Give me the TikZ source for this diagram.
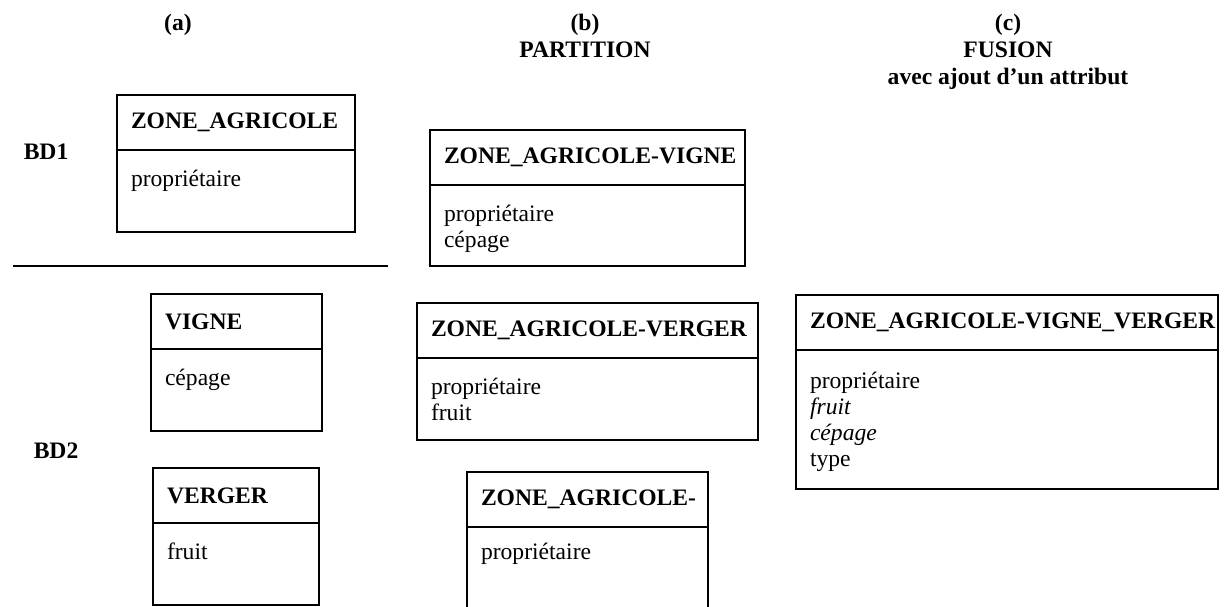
\documentclass[tikz,border=0pt]{standalone}
\usepackage{fontspec}
\setmainfont{Liberation Serif}
\usetikzlibrary{positioning}

\newcommand{\bigtext}{\fontsize{23.6pt}{26pt}\selectfont}

\begin{document}
\begin{tikzpicture}[
	x=1pt, y=-1pt,
	line width=1.5pt,
	node distance=0pt,
	title/.style={draw, anchor=north west, minimum height=55pt, outer sep=0pt, inner xsep=14pt, inner ysep=0pt, align=left, font=\bigtext\bfseries, execute at begin node={\exhyphenpenalty=10000 \hyphenpenalty=10000}},
	attr/.style={draw, outer sep=0pt, inner xsep=14pt, inner ysep=0pt, align=left, text height=36pt, font=\bigtext},
	head/.style={align=center, inner sep=0pt, font=\fontsize{23.6pt}{27pt}\selectfont\bfseries}
]
\useasboundingbox (0,0) rectangle (1226,607);
\clip (0,0) rectangle (1226,607);

% column headers (anchored on their last line)
\node[head, anchor=base] (ha) at (178,31) {(a)};
\node[head, anchor=base] (hb) at (585,58) {(b)\\PARTITION};
\node[head, anchor=base] (hc) at (1008,85) {(c)\\FUSION\\avec ajout d’un attribut};

\node[head, anchor=base west] (bd1) at (23,160) {BD1};
\node[head, anchor=base west] (bd2) at (33,458) {BD2};

\coordinate (cutL) at (13,266);
\coordinate (cutR) at (388,266);
\draw (cutL) -- (cutR);

% (a) source classes
\node[title, text width=210pt] (za) at (117,95) {ZONE\_AGRICOLE};
\node[attr, text width=210pt, text depth=46pt, below=of za] (za-att) {propriétaire};

\node[title, text width=143pt] (vigne) at (151,294) {VIGNE};
\node[attr, text width=143pt, text depth=46pt, below=of vigne] (vigne-att) {cépage};

\node[title, text width=138pt] (verger) at (153,468) {VERGER};
\node[attr, text width=138pt, text depth=46pt, below=of verger] (verger-att) {fruit};

% (b) partition
\node[title, text width=287pt] (zav) at (430,130) {ZONE\_AGRICOLE-VIGNE};
\node[attr, text width=287pt, text depth=45pt, below=of zav] (zav-att) {propriétaire\\cépage};

\node[title, text width=313pt] (zavg) at (417,303) {ZONE\_AGRICOLE-VERGER};
\node[attr, text width=313pt, text depth=46pt, below=of zavg] (zavg-att) {propriétaire\\fruit};

\node[title, text width=213pt] (zam) at (467,472) {ZONE\_AGRICOLE-};
\node[attr, text width=213pt, text height=32pt, text depth=60pt, below=of zam] (zam-att) {propriétaire};

% (c) fusion
\node[title, text width=394pt] (fus) at (796,295) {ZONE\_AGRICOLE-VIGNE\_VERGER};
\node[attr, text width=394pt, text height=38pt, text depth=101pt, below=of fus] (fus-att) {propriétaire\\\textit{fruit}\\\textit{cépage}\\type};
\end{tikzpicture}
\end{document}
